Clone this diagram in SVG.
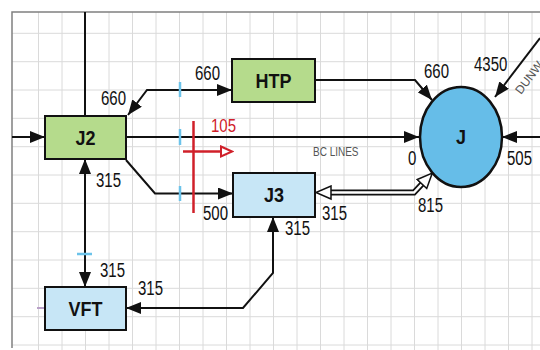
<svg xmlns="http://www.w3.org/2000/svg" width="540" height="350" viewBox="0 0 540 350">
<style>
.grid{stroke:#dadada;stroke-width:1;fill:none}
.frame{stroke:#808080;stroke-width:1.5;fill:none}
.node{stroke:#111;stroke-width:2}
.green{fill:#b5db8c}
.blue{fill:#c7e6f6}
.conn{stroke:#111;stroke-width:2;fill:none}
.lbl{font-family:"Liberation Sans",Arial,sans-serif;font-size:15px;fill:#111}
.nl{font-family:"Liberation Sans",Arial,sans-serif;font-size:18px;font-weight:bold;fill:#111;text-anchor:middle}
.small{font-family:"Liberation Sans",Arial,sans-serif;font-size:10px;fill:#555}
.tick{stroke:#6cc3ea;stroke-width:2.5}
.red{stroke:#d0202a;stroke-width:2.5;fill:none}
</style>
<defs>
<marker id="ah" markerUnits="userSpaceOnUse" viewBox="0 0 15 12" markerWidth="15" markerHeight="12" refX="15" refY="6" orient="auto-start-reverse">
<path d="M0,0 L15,6 L0,12 z" fill="#111"/>
</marker>
<marker id="hol" markerUnits="userSpaceOnUse" viewBox="-1 -8 18 16" markerWidth="18" markerHeight="16" refX="0" refY="0" orient="auto-start-reverse">
<path d="M0,-6.5 L15,0 L0,6.5 z" fill="#fff" stroke="#111" stroke-width="1.5"/>
</marker>
<marker id="rh" markerUnits="userSpaceOnUse" viewBox="-1 -7 14 14" markerWidth="14" markerHeight="14" refX="0" refY="0" orient="auto">
<path d="M0,-5 L11,0 L0,5 z" fill="#fff" stroke="#d0202a" stroke-width="2"/>
</marker>
</defs>
<rect width="540" height="350" fill="#fff"/>
<g id="grid">
<path class="grid" d="M38.5,12V350M62,12V350M85.5,12V350M109,12V350M132.5,12V350M156,12V350M179.5,12V350M203,12V350M226.5,12V350M250,12V350M273.5,12V350M297,12V350M320.5,12V350M344,12V350M367.5,12V350M391,12V350M414.5,12V350M438,12V350M461.5,12V350M485,12V350M508.5,12V350M532,12V350M12,33.3H540M12,61.7H540M12,90H540M12,118.3H540M12,146.7H540M12,175H540M12,203.3H540M12,231.7H540M12,260H540M12,288.3H540M12,316.7H540M12,345H540"/>
<path class="frame" d="M12,348V12H540"/>
</g>
<g id="connectors">
<path class="conn" d="M85,12V116"/>
<path class="conn" d="M12,137H45" marker-end="url(#ah)"/>
<path class="conn" d="M126,137H419" marker-end="url(#ah)"/>
<path class="conn" d="M128,115L147,90H232" marker-start="url(#ah)" marker-end="url(#ah)"/>
<path class="conn" d="M315,80H415L432,100" marker-end="url(#ah)"/>
<path class="conn" d="M540,38L495,97" marker-end="url(#ah)"/>
<path class="conn" d="M540,137H502" marker-end="url(#ah)"/>
<path class="conn" d="M126,160L155,193.5H233" marker-end="url(#ah)"/>
<path class="conn" d="M85,159V287" marker-start="url(#ah)" marker-end="url(#ah)"/>
<path class="conn" d="M126,308H243L273,273V217" marker-start="url(#ah)" marker-end="url(#ah)"/>
<path d="M331,192.5H414L422,184" stroke="#111" stroke-width="6" fill="none"/>
<path d="M331,192.5H414L422,184" stroke="#fff" stroke-width="2.5" fill="none"/>
<path d="M331,192.5H414L422,184" stroke="none" fill="none" marker-start="url(#hol)" marker-end="url(#hol)"/>
<path class="tick" d="M180,82V97M180,129V145M180,186V201M77,254H92"/>
<path d="M37,308H45" stroke="#b9a0c8" stroke-width="2"/>
<path class="red" d="M193.5,121V213"/>
<path class="red" d="M183,151.5H221" stroke-width="2" marker-end="url(#rh)"/>
</g>
<g id="J2"><rect class="node green" x="45" y="116" width="81" height="43"/><text class="nl" transform="translate(85.5,145) scale(1,1.15)">J2</text></g>
<g id="HTP"><rect class="node green" x="232" y="59" width="83" height="43"/><text class="nl" transform="translate(273.5,88) scale(1,1.15)">HTP</text></g>
<g id="J3"><rect class="node blue" x="233" y="173" width="82" height="44"/><text class="nl" transform="translate(274,202) scale(1,1.15)">J3</text></g>
<g id="VFT"><rect class="node blue" x="45" y="287" width="81" height="43"/><text class="nl" transform="translate(85.5,316) scale(1,1.15)">VFT</text></g>
<g id="J"><ellipse cx="461" cy="137" rx="41" ry="50" fill="#66bde8" stroke="#111" stroke-width="2.5"/><text class="nl" transform="translate(461,144) scale(1,1.15)">J</text></g>
<g id="labels">
<text class="lbl" transform="translate(195,80) scale(1,1.3)">660</text>
<text class="lbl" transform="translate(101,105) scale(1,1.3)">660</text>
<text class="lbl" transform="translate(424,78) scale(1,1.3)">660</text>
<text class="lbl" transform="translate(474,71) scale(1,1.3)">4350</text>
<text class="lbl" transform="translate(408,165) scale(1,1.3)">0</text>
<text class="lbl" transform="translate(507,165) scale(1,1.3)">505</text>
<text class="lbl" transform="translate(96,187) scale(1,1.3)">315</text>
<text class="lbl" transform="translate(203,220) scale(1,1.3)">500</text>
<text class="lbl" transform="translate(100,277) scale(1,1.3)">315</text>
<text class="lbl" transform="translate(138,295) scale(1,1.3)">315</text>
<text class="lbl" transform="translate(322,220) scale(1,1.3)">315</text>
<text class="lbl" transform="translate(285,235) scale(1,1.3)">315</text>
<text class="lbl" transform="translate(418,212) scale(1,1.3)">815</text>
<text class="lbl" transform="translate(211,132) scale(1,1.2)" style="fill:#d0202a">105</text>
<text class="small" transform="translate(313,156) scale(1,1.25)">BC LINES</text>
<text class="small" transform="translate(521,95) rotate(-53)" style="font-size:12px">DUNW</text>
</g>
</svg>
